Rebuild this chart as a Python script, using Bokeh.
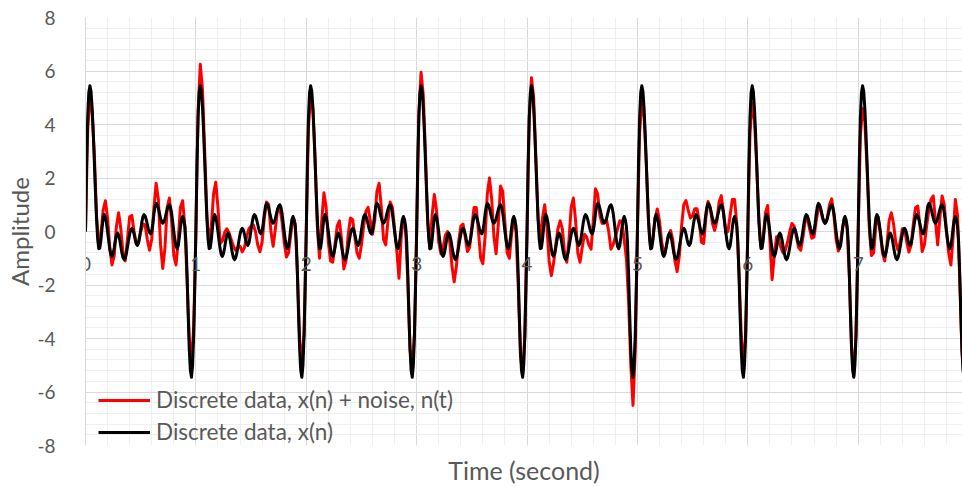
import numpy as np
from bokeh.plotting import figure
from bokeh.models import (ColumnDataSource, FixedTicker, Legend, LegendItem, Range1d)
from bokeh.core.properties import value
from bokeh.embed import file_html
from bokeh.resources import INLINE

# ---- data -------------------------------------------------------------
# One period (1 s) of the clean signal x(n), sampled every 0.01 s
black_step = 0.01
black_period = [
    0.0, 2.6, 4.3, 5.2, 5.45, 5.24, 4.63, 3.72, 2.61, 1.49,
    0.47, -0.27, -0.64, -0.62, -0.31, 0.13, 0.51, 0.63, 0.54, 0.31,
    -0.01, -0.35, -0.66, -0.87, -0.93, -0.83, -0.62, -0.35, -0.14, -0.06,
    -0.13, -0.31, -0.56, -0.80, -0.98, -1.05, -0.99, -0.83, -0.59, -0.34,
    -0.10, 0.06, 0.12, 0.06, -0.10, -0.30, -0.46, -0.52, -0.44, -0.23,
    0.06, 0.34, 0.55, 0.63, 0.58, 0.45, 0.27, 0.09, -0.04, -0.09,
    0.02, 0.30, 0.66, 0.94, 1.05, 1.00, 0.87, 0.68, 0.50, 0.36,
    0.31, 0.36, 0.48, 0.66, 0.83, 0.95, 1.00, 0.92, 0.69, 0.36,
    0.00, -0.33, -0.56, -0.64, -0.53, -0.23, 0.15, 0.45, 0.56, 0.45,
    0.20, -0.40, -1.60, -3.10, -4.40, -5.20, -5.45, -5.00, -3.90, -2.10,
]
n_periods = 8

# Noisy signal x(n) + n(t), sampled every 0.02 s, one list per second
red_step = 0.02
red_p0 = [0.0, 3.8, 4.95, 4.5, 2.9, 0.6, -0.5, -0.1, 0.8, 1.15,
          0.5, -0.6, -1.25, -0.9, 0.2, 0.7, 0.1, -0.85, -1.1, -0.3,
          0.55, 0.6, 0.0, -0.45, -0.4, 0.0, 0.28, 0.25, -0.3, -0.7,
          -0.3, 0.9, 1.8, 1.2, -0.5, -1.38, -0.6, 0.9, 1.25, 0.4,
          -0.9, -1.25, -0.3, 0.9, 1.15, 0.2, -1.8, -4.0, -4.9, -3.6]
red_p1 = [0.0, 4.5, 6.25, 5.3, 3.0, 0.6, -0.5, 0.2, 1.4, 1.84,
          0.9, -0.45, -0.35, -0.05, 0.1, -0.05, -0.3, -0.55, -0.7, -0.6,
          -0.55, -0.76, -0.6, -0.2, 0.1, 0.2, 0.25, 0.0, -0.5, -0.76,
          -0.4, 0.5, 1.1, 1.0, 0.0, -0.55, 0.1, 0.85, 0.9, 0.4,
          -0.4, -0.95, -0.8, -0.1, 0.5, 0.3, -1.6, -4.0, -5.0, -3.8]
red_p2 = [0.0, 3.9, 5.1, 4.6, 2.7, 0.2, -1.0, 0.4, 1.45, 0.9,
          -0.4, -1.1, -1.15, -0.5, 0.2, 0.4, -0.3, -1.4, -1.1, -0.1,
          0.5, 0.45, -0.2, -0.8, -1.0, -0.5, 0.2, 0.75, 0.9, 0.4,
          -0.1, 0.4, 1.5, 1.8, 0.9, -0.3, -0.5, 0.4, 1.1, 0.9,
          0.1, -0.7, -1.75, -0.2, 0.5, 0.1, -1.9, -4.4, -5.25, -3.8]
red_p3 = [0.0, 4.4, 5.95, 5.1, 2.9, 0.3, -0.65, 0.6, 1.38, 0.8,
          -0.4, -0.83, -0.6, -0.15, 0.0, -0.4, -1.3, -1.88, -1.3, -0.4,
          0.2, 0.28, -0.2, -0.75, -0.6, 0.2, 0.9, 0.9, 0.0, -1.0,
          -1.2, -0.2, 1.4, 2.0, 1.2, -0.2, -0.83, 0.3, 1.7, 1.5,
          0.3, -0.8, -1.0, -0.1, 0.5, 0.0, -2.0, -4.6, -5.35, -3.9]
red_p4 = [0.0, 4.2, 5.75, 5.0, 2.8, 0.5, -0.3, 0.5, 1.0, 0.2,
          -1.1, -1.65, -1.2, -0.5, 0.1, 0.4, 0.1, -0.8, -1.15, -0.3,
          0.9, 1.25, 0.4, -0.8, -1.15, -0.6, -0.1, -0.2, -0.5, -0.66,
          0.4, 1.6, 1.4, 0.6, 0.3, 0.35, 0.45, 0.0, -0.66, -0.5,
          -0.2, 0.1, 0.4, 0.35, -0.3, -1.0, -2.6, -5.0, -6.5, -4.5]
red_p5 = [0.0, 3.7, 4.85, 4.3, 2.6, 0.4, -0.65, -0.3, 0.5, 0.84,
          0.4, -0.4, -0.8, -0.6, -0.2, 0.04, -0.3, -1.1, -1.5, -0.9,
          0.2, 1.0, 1.16, 0.8, 0.5, 0.6, 0.85, 0.85, 0.4, -0.4,
          -0.45, 0.5, 1.12, 0.9, 0.3, 0.04, 0.4, 1.1, 1.34, 0.7,
          -0.05, 0.0, 0.6, 1.2, 1.2, 0.3, -1.5, -3.8, -5.1, -3.9]
red_p6 = [0.0, 3.7, 4.8, 4.2, 2.5, 0.4, -0.6, -0.2, 0.7, 0.97,
          -0.3, -1.8, -0.9, -0.2, -0.3, -0.6, -0.8, -0.7, -0.4, 0.0,
          0.3, 0.2, -0.2, -0.6, -0.7, -0.2, 0.4, 0.5, 0.1, -0.25,
          -0.2, 0.4, 0.9, 0.8, 0.45, 0.3, 0.5, 1.0, 1.22, 0.6,
          -0.3, -0.73, -0.4, 0.2, 0.45, 0.1, -1.7, -4.3, -5.4, -3.9]
red_p7 = [0.0, 3.6, 4.6, 4.1, 2.4, 0.2, -0.9, -0.8, 0.2, 0.55,
          0.0, -0.8, -1.1, -0.5, 0.4, 0.7, 0.3, -0.4, -0.7, -0.4,
          0.1, 0.1, -0.4, -0.77, -0.5, 0.3, 0.9, 0.95, 0.2, -0.75,
          -0.5, 0.2, 0.8, 1.2, 1.33, 0.4, -0.5, 0.5, 1.33, 1.0,
          0.0, -0.8, -1.25, -0.2, 1.2, 0.6, -1.8, -4.5, -5.5, -4.0]

x_ticks = [0, 1, 2, 3, 4, 5, 6, 7]
x_tick_labels = ["0", "1", "2", "3", "4", "5", "6", "7"]
y_ticks = [-8, -6, -4, -2, 0, 2, 4, 6, 8]
y_tick_labels = ["-8", "-6", "-4", "-2", "0", "2", "4", "6", "8"]

label_noisy = "Discrete data, x(n) + noise, n(t)"
label_clean = "Discrete data, x(n)"

# ---- series -----------------------------------------------------------
black_y = black_period * n_periods + [0.0]
black_t = np.arange(len(black_y)) * black_step

red_y = red_p0 + red_p1 + red_p2 + red_p3 + red_p4 + red_p5 + red_p6 + red_p7 + [0.0]
red_t = np.arange(len(red_y)) * red_step

FONT = "Lato"
GREY_TEXT = "#595959"

p = figure(width=962, height=487, output_backend="svg", toolbar_location=None,
           x_range=Range1d(0, 7.945), y_range=Range1d(-8, 8),
           min_border_left=85, min_border_right=0, min_border_top=17,
           min_border_bottom=39)
p.outline_line_color = None
p.background_fill_color = "white"
p.border_fill_color = "white"

# grids: major every 1 s / 2 units, minor every 0.2 s / 0.4 units
p.xgrid.ticker = FixedTicker(ticks=list(range(0, 9)),
                             minor_ticks=[round(i * 0.2, 2) for i in range(41)])
p.ygrid.ticker = FixedTicker(ticks=y_ticks,
                             minor_ticks=[round(-8 + i * 0.4, 2) for i in range(41)])
for g in (p.xgrid, p.ygrid):
    g.grid_line_color = "#d9d9d9"
    g.grid_line_width = 1
    g.minor_grid_line_color = "#efefef"
    g.minor_grid_line_width = 1

# left axis
p.yaxis.ticker = FixedTicker(ticks=y_ticks)
p.yaxis.major_label_overrides = dict(zip(y_ticks, y_tick_labels))
p.yaxis.axis_line_color = "#d9d9d9"
p.yaxis.major_tick_line_color = None
p.yaxis.minor_tick_line_color = None
p.yaxis.major_tick_out = 0
p.yaxis.major_tick_in = 0
p.yaxis.major_label_standoff = 30
p.yaxis.major_label_text_font = FONT
p.yaxis.major_label_text_font_size = "19px"
p.yaxis.major_label_text_color = GREY_TEXT
p.yaxis.axis_label = "Amplitude"
p.yaxis.axis_label_standoff = 0
p.yaxis.axis_label_text_font = FONT
p.yaxis.axis_label_text_font_size = "24px"
p.yaxis.axis_label_text_font_style = "normal"
p.yaxis.axis_label_text_color = GREY_TEXT

# bottom axis carries only the title; tick labels sit on the zero line
p.xaxis.ticker = FixedTicker(ticks=[])
p.xaxis.axis_line_color = None
p.xaxis.major_tick_line_color = None
p.xaxis.minor_tick_line_color = None
p.xaxis.axis_label = "Time (second)"
p.xaxis.axis_label_standoff = 9
p.xaxis.axis_label_text_font = FONT
p.xaxis.axis_label_text_font_size = "25px"
p.xaxis.axis_label_text_font_style = "normal"
p.xaxis.axis_label_text_color = GREY_TEXT

r_red = p.line(red_t, red_y, line_color="#ff0000", line_width=3, line_join="round")
r_black = p.line(black_t, black_y, line_color="#000000", line_width=3, line_join="round")

tick_src = ColumnDataSource(dict(x=x_ticks, y=[0] * len(x_ticks), text=x_tick_labels))
p.text(x="x", y="y", text="text", source=tick_src, text_font=value(FONT),
       text_font_size=value("19px"), text_color=GREY_TEXT, text_align="center",
       text_baseline="middle", y_offset=32)

legend = Legend(items=[LegendItem(label=label_noisy, renderers=[r_red]),
                       LegendItem(label=label_clean, renderers=[r_black])],
                location=(13, 0))
legend.label_text_font = FONT
legend.label_text_font_size = "22.5px"
legend.label_text_line_height = 0.9
legend.label_text_color = GREY_TEXT
legend.glyph_width = 52
legend.glyph_height = 20
legend.label_height = 20
legend.label_standoff = 6
legend.spacing = 5
legend.padding = 0
legend.margin = 0
legend.background_fill_alpha = 0
legend.border_line_alpha = 0
p.add_layout(legend)

open("out.html", "w").write(file_html(p, INLINE))
